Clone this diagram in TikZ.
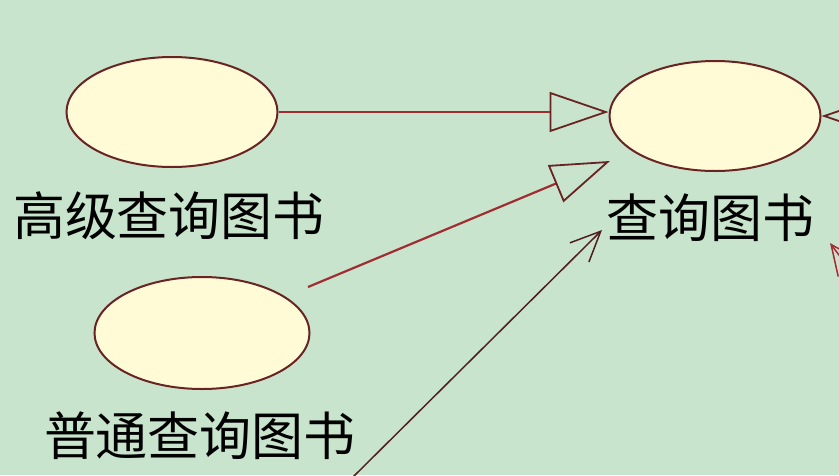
\documentclass[tikz,border=0pt]{standalone}
\usepackage{fontspec}
\newfontfamily\cjk{Noto Sans CJK SC}
\usetikzlibrary{shapes.geometric,arrows.meta}
\definecolor{bg}{RGB}{200,228,204}
\definecolor{ucfill}{RGB}{255,251,214}
\definecolor{ucline}{RGB}{105,35,35}
\definecolor{edge}{RGB}{160,45,50}
\definecolor{depc}{RGB}{80,30,30}
\begin{document}
\begin{tikzpicture}[x=1pt,y=-1pt,
  uc/.style={ellipse, draw=ucline, fill=ucfill, line width=2pt, minimum width=211pt, minimum height=110pt, inner sep=0pt},
  lbl/.style={font=\cjk\fontsize{52}{52}\selectfont, text=black, inner sep=0pt},
  gen/.style={draw=edge, line width=2.2pt, -{Triangle[open, length=59pt, width=40pt, line width=1.8pt, color=ucline]}},
  dep/.style={draw=depc, line width=1.5pt, -{Straight Barb[length=30pt, width=27pt, line width=1.5pt]}}]
\fill[bg] (0,0) rectangle (839,475);
\useasboundingbox (0,0) rectangle (839,475);
\clip (0,0) rectangle (839,475);
\node[uc] (A) at (172,112) {};
\node[uc] (C) at (715,116) {};
\node[uc, minimum width=215pt, minimum height=112pt] (B) at (202,333) {};
\node[lbl] (LA) at (169,216) {高级查询图书};
\node[lbl] (LC) at (710,218) {查询图书};
\node[lbl] (LB) at (200,436) {普通查询图书};
\coordinate (b1) at (308,287);
\coordinate (c1) at (610,161);
\coordinate (d0) at (352,478);
\coordinate (c2) at (602,230);
\coordinate (r0) at (900,116);
\coordinate (r1) at (880,310);
\coordinate (c3) at (830,243);
\draw[gen] (A.east) -- (A.east -| C.west);
\draw[gen] (b1) -- (c1);
\draw[dep] (d0) -- (c2);
\draw[gen] (r0) -- (C.east);
\draw[dep, draw=edge] (r1) -- (c3);
\end{tikzpicture}
\end{document}
